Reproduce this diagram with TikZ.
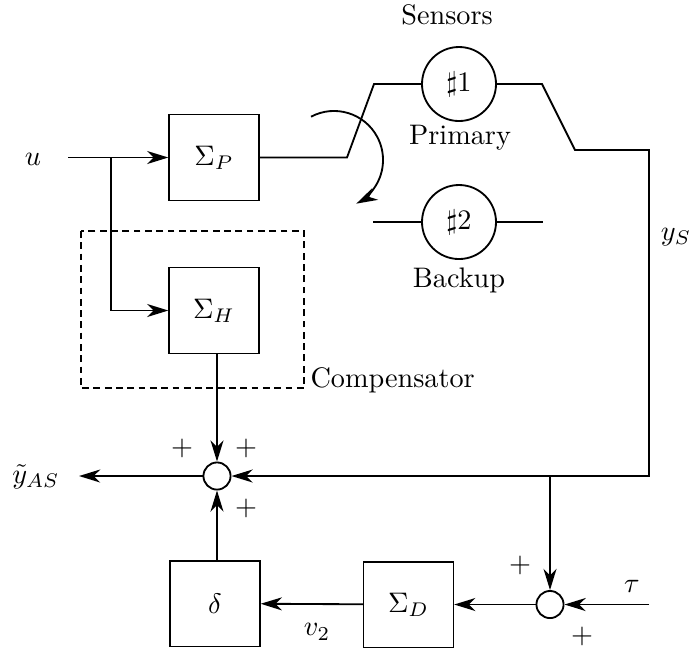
\documentclass[tikz,border=0pt]{standalone}
\usetikzlibrary{arrows.meta}
\begin{document}
\begin{tikzpicture}[x=0.354pt,y=-0.354pt,
  block/.style={draw,line width=0.45pt,minimum width=31.9pt,minimum height=30.2pt,inner sep=0pt},
  sumnode/.style={draw,circle,line width=0.65pt,minimum size=9.6pt,inner sep=0pt},
  sensor/.style={draw,circle,line width=0.65pt,minimum size=26.2pt,inner sep=0pt},
  conn/.style={line width=0.65pt},
  arr/.style={conn,-{Stealth[length=7.5pt,width=4.6pt,inset=2.3pt]}},
  lbl/.style={inner sep=0pt},
  dashbox/.style={line width=0.45pt,dash pattern=on 2.4pt off 1.6pt}]
\useasboundingbox (0,0) rectangle (691,651);
% blocks
\node[block] (P) at (214,157.5) {$\Sigma_P$};
\node[block] (H) at (214,310.5) {$\Sigma_H$};
\node[block] (D) at (408.5,604.5) {$\Sigma_D$};
\node[block] (delta) at (215,603.5) {$\delta$};
\node[sumnode] (S1) at (217,476) {};
\node[sumnode] (S2) at (550,604.5) {};
\node[sensor] (s1) at (459,84) {$\sharp 1$};
\node[sensor] (s2) at (459,222) {$\sharp 2$};
% labels
\node[lbl] (u) at (33,159) {$u$};
\node[lbl] (yas) at (36,477) {$\tilde y_{AS}$};
\node[lbl] (ys) at (676,237) {$y_S$};
\node[lbl] (tau) at (632,586) {$\tau$};
\node[lbl] (v2) at (317,632) {$v_2$};
\node[lbl] (sens) at (447,15) {Sensors};
\node[lbl] (prim) at (460,138) {Primary};
\node[lbl] (back) at (459,280) {Backup};
\node[lbl,anchor=base west] (comp) at (310,387) {Compensator};
\node[lbl] (p1) at (182,448) {$+$};
\node[lbl] (p2) at (246,448) {$+$};
\node[lbl] (p3) at (246,508) {$+$};
\node[lbl] (p4) at (520,565) {$+$};
\node[lbl] (p5) at (582,636) {$+$};
% coordinates
\coordinate (in) at (68,157.5);
\coordinate (br) at (111,157.5);
\coordinate (outend) at (79,476);
\coordinate (sl1) at (347,157.5);
\coordinate (sl2) at (374,84);
\coordinate (sr1) at (542,84);
\coordinate (sw) at (575,150);
\coordinate (fr) at (649,150);
\coordinate (tin) at (649,604.5);
\coordinate (b2l) at (373,222);
\coordinate (b2r) at (543,222);
\coordinate (arcs) at (311,116.7);
\coordinate (dl) at (81,231);
\coordinate (dr) at (304,388);
% compensator box
\draw[dashbox] (dl) rectangle (dr);
% connectors
\draw[arr] (in) -- (P.west);
\draw[arr] (br) |- (H.west);
\draw[conn] (P.east) -- (sl1) -- (sl2) -- (s1.west);
\draw[arr] (s1.east) -- (sr1) -- (sw) -- (fr) -- (fr |- S1) -- (S1);
\draw[conn] (b2l) -- (s2.west);
\draw[conn] (s2.east) -- (b2r);
\draw[arr] (arcs) arc[start angle=118,end angle=-63,radius=17.35pt];
\draw[arr] (H.south -| S1) -- (S1);
\draw[arr] (S1) -- (outend);
\draw[arr] (delta.north -| S1) -- (S1);
\draw[arr] (S2 |- S1) -- (S2);
\draw[arr] (tin) -- (S2);
\draw[arr] (S2) -- (D);
\draw[arr] (D) -- (delta);
\end{tikzpicture}
\end{document}
